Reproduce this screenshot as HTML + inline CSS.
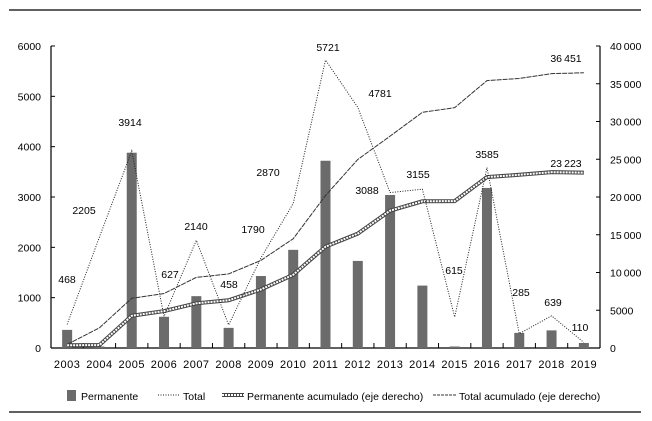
<!DOCTYPE html>
<html><head><meta charset="utf-8"><style>
html,body{margin:0;padding:0;background:#fff;}
svg{display:block;font-family:"Liberation Sans",sans-serif;}
</style></head><body>
<svg id="chart" width="652" height="421" viewBox="0 0 652 421">
<line x1="9" y1="10" x2="641" y2="10" stroke="#000" stroke-width="1.2"/>
<line x1="9" y1="412" x2="641" y2="412" stroke="#000" stroke-width="1.2"/>
<g id="g"></g>
</svg>
<script>
const years=["2003","2004","2005","2006","2007","2008","2009","2010","2011","2012","2013","2014","2015","2016","2017","2018","2019"];
const permanente=[360,30,3880,620,1030,400,1430,1950,3720,1730,3040,1240,30,3180,300,350,100];
const total=[468,2205,3914,627,2140,458,1790,2870,5721,4781,3088,3155,615,3585,285,639,110];
const permAcum=[360,390,4270,4890,5920,6320,7750,9700,13420,15150,18190,19430,19460,22640,22940,23290,23223];
const totalAcum=[468,2673,6587,7214,9354,9812,11602,14472,20193,24974,28062,31217,31832,35417,35702,36341,36451];
const leftTicks=[0,1000,2000,3000,4000,5000,6000];
const rightTicks=[0,5000,10000,15000,20000,25000,30000,35000,40000];
const rightTickLabels=["0","5000","10\u2009000","15\u2009000","20\u2009000","25\u2009000","30\u2009000","35\u2009000","40\u2009000"];
const totalLabels=["468","2205","3914","627","2140","458","1790","2870","5721","4781","3088","3155","615","3585","285","639","110"];
const labelPos=[[67,283],[84,214],[130,126],[170,278],[196,230],[229,288],[253,233],[268,176],[328,51],[380,97],[367,194],[418,178],[454,274],[487,158],[521,296],[553,306],[580,331]];

const L=51,R=600,T=46,B=348,n=years.length,slot=(R-L)/n;
const xc=i=>L+slot*(i+0.5);
const yL=v=>B-(v/6000)*(B-T);
const yR=v=>B-(v/40000)*(B-T);
const g=document.getElementById('g');
const NS='http://www.w3.org/2000/svg';
function mk(tag,attrs,txt){const e=document.createElementNS(NS,tag);for(const k in attrs)e.setAttribute(k,attrs[k]);if(txt!==undefined)e.textContent=txt;g.appendChild(e);return e;}

let e=mk('line',{x1:L,y1:T,x2:L,y2:B,stroke:'#000','stroke-width':1.2});


e=mk('line',{x1:R,y1:T,x2:R,y2:B,stroke:'#000','stroke-width':1.2});


e=mk('line',{x1:L,y1:B,x2:R,y2:B,stroke:'#000','stroke-width':1.2});


leftTicks.forEach(v=>{
 mk('line',{x1:L,y1:yL(v),x2:L+4,y2:yL(v),stroke:'#000'});
 e=mk('text',{x:41,y:yL(v)+4,'text-anchor':'end','font-size':10.5},String(v));
 
 
});
rightTicks.forEach((v,i)=>{
 mk('line',{x1:R-4,y1:yR(v),x2:R,y2:yR(v),stroke:'#000'});
 e=mk('text',{x:610,y:yR(v)+4,'font-size':10.5},rightTickLabels[i]);
 
 
});
for(let i=0;i<=n;i++){mk('line',{x1:L+slot*i,y1:B,x2:L+slot*i,y2:B-5,stroke:'#000'});}
years.forEach((y,i)=>{
 e=mk('text',{x:xc(i),y:368,'text-anchor':'middle','font-size':11,'letter-spacing':'0.5'},y);
 
 
});
permanente.forEach((v,i)=>{
 e=mk('rect',{x:xc(i)-5,y:yL(v),width:10,height:B-yL(v),fill:'#6b6b6b'});
 
 
});
const pts=(arr,f)=>arr.map((v,i)=>xc(i)+','+f(v)).join(' ');
e=mk('polyline',{points:pts(totalAcum,yR),fill:'none',stroke:'#333','stroke-width':1,'stroke-dasharray':'5,1'});


e=mk('polyline',{points:pts(permAcum,yR),fill:'none',stroke:'#444','stroke-width':4});


mk('polyline',{points:pts(permAcum,yR),fill:'none',stroke:'#fff','stroke-width':2,'stroke-dasharray':'2,1'});
e=mk('polyline',{points:pts(total,yL),fill:'none',stroke:'#222','stroke-width':1,'stroke-dasharray':'1,1.5'});


totalLabels.forEach((t,i)=>{
 e=mk('text',{x:labelPos[i][0],y:labelPos[i][1],'text-anchor':'middle','font-size':10.5},t);
 
 
});
e=mk('text',{x:566,y:62,'text-anchor':'middle','font-size':10.5},'36\u2009451');


e=mk('text',{x:566,y:167,'text-anchor':'middle','font-size':10.5},'23\u2009223');


e=mk('rect',{x:67,y:390,width:9,height:11,fill:'#6b6b6b'});


e=mk('text',{x:81,y:400,'font-size':10.5},'Permanente');


mk('line',{x1:158,y1:395,x2:180,y2:395,stroke:'#222','stroke-dasharray':'1,1.5'});
e=mk('text',{x:183,y:400,'font-size':10.5},'Total');


mk('line',{x1:222,y1:395,x2:244,y2:395,stroke:'#444','stroke-width':4});
mk('line',{x1:222,y1:395,x2:244,y2:395,stroke:'#fff','stroke-width':2,'stroke-dasharray':'2,1'});
e=mk('text',{x:247,y:400,'font-size':10.5},'Permanente acumulado (eje derecho)');


mk('line',{x1:433,y1:395,x2:456,y2:395,stroke:'#333','stroke-dasharray':'3,1'});
e=mk('text',{x:459,y:400,'font-size':10.5},'Total acumulado (eje derecho)');


</script>
</body></html>
